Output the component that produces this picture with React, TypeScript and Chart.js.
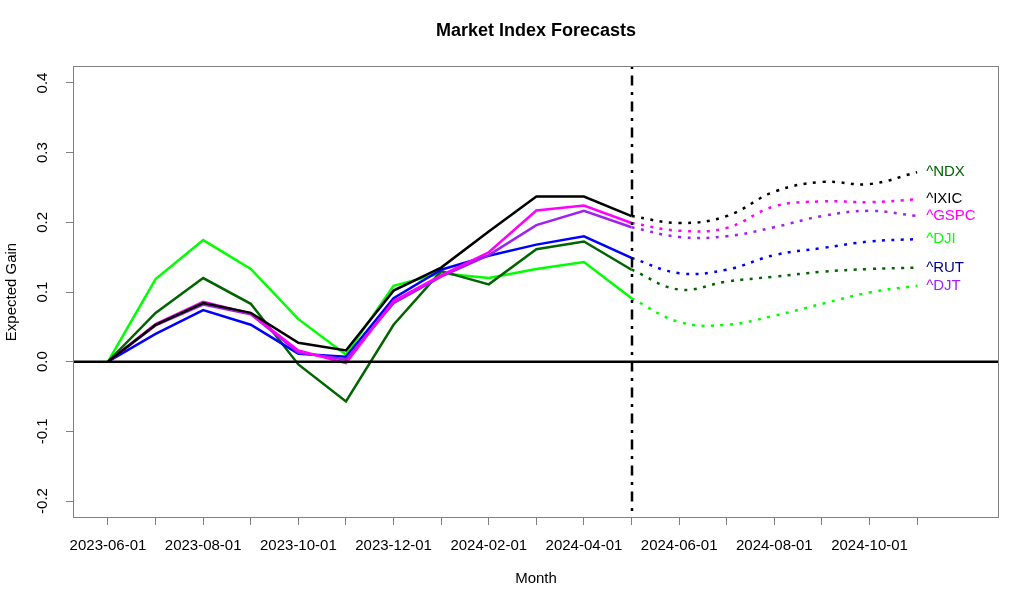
import React, { useEffect, useRef } from 'react';
import { Chart, registerables } from 'chart.js';

Chart.register(...registerables);

const MONTHS = [
  '2023-06-01', '2023-07-01', '2023-08-01', '2023-09-01', '2023-10-01', '2023-11-01',
  '2023-12-01', '2024-01-01', '2024-02-01', '2024-03-01', '2024-04-01', '2024-05-01',
  '2024-06-01', '2024-07-01', '2024-08-01', '2024-09-01', '2024-10-01', '2024-11-01',
];
const LAST_ACTUAL = 11;
const Y_TICKS = [-0.2, -0.1, 0.0, 0.1, 0.2, 0.3, 0.4];

const SERIES_BLACK = [0, 0.053, 0.084, 0.070, 0.027, 0.016, 0.102, 0.135, 0.187, 0.237, 0.237, 0.209, 0.199, 0.209, 0.244, 0.258, 0.255, 0.272];
const SERIES_MAGENTA = [0, 0.054, 0.086, 0.069, 0.016, -0.002, 0.087, 0.124, 0.157, 0.217, 0.224, 0.199, 0.188, 0.192, 0.223, 0.230, 0.229, 0.233];
const SERIES_PURPLE = [0, 0.052, 0.082, 0.068, 0.013, 0.003, 0.084, 0.122, 0.153, 0.196, 0.2165, 0.193, 0.179, 0.180, 0.193, 0.209, 0.2165, 0.209];
const SERIES_BLUE = [0, 0.040, 0.074, 0.053, 0.0115, 0.007, 0.091, 0.132, 0.152, 0.168, 0.180, 0.149, 0.127, 0.132, 0.153, 0.163, 0.1725, 0.176];
const SERIES_DARKGREEN = [0, 0.070, 0.120, 0.083, -0.004, -0.057, 0.053, 0.130, 0.111, 0.1615, 0.1725, 0.132, 0.1035, 0.115, 0.122, 0.129, 0.133, 0.135];
const SERIES_GREEN = [0, 0.1186, 0.1745, 0.133, 0.061, 0.010, 0.109, 0.127, 0.120, 0.133, 0.143, 0.091, 0.057, 0.053, 0.066, 0.083, 0.0994, 0.109];

const LINE_SERIES = [SERIES_BLACK, SERIES_MAGENTA, SERIES_PURPLE, SERIES_BLUE, SERIES_DARKGREEN, SERIES_GREEN];
const LINE_COLORS = ['#000000', '#FF00FF', '#A020F0', '#0000FF', '#006400', '#00FF00'];
const END_LABELS = ['^NDX', '^IXIC', '^GSPC', '^DJI', '^RUT', '^DJT'];
const END_LABEL_COLORS = ['#006400', '#000000', '#FF00FF', '#00FF00', '#00008B', '#A020F0'];

const FONT = "'Liberation Sans', Arial, sans-serif";
const AXIS_GRAY = '#808080';

const decorPlugin = {
  id: 'decor',
  afterDatasetsDraw(chart: any) {
    const { ctx, chartArea: a, scales } = chart;
    const xs = scales.x;
    const ys = scales.y;
    ctx.save();
    // zero line
    const y0 = ys.getPixelForValue(0);
    ctx.strokeStyle = '#000';
    ctx.lineWidth = 2.5;
    ctx.setLineDash([]);
    ctx.beginPath();
    ctx.moveTo(a.left, y0);
    ctx.lineTo(a.right, y0);
    ctx.stroke();
    // forecast split line
    const xv = Math.round(xs.getPixelForValue(LAST_ACTUAL));
    ctx.setLineDash([3, 6.5, 10, 6.5]);
    ctx.beginPath();
    ctx.moveTo(xv, a.top);
    ctx.lineTo(xv, a.bottom);
    ctx.stroke();
    ctx.setLineDash([]);
    // box
    ctx.strokeStyle = AXIS_GRAY;
    ctx.lineWidth = 1;
    ctx.strokeRect(a.left + 0.5, a.top + 0.5, a.right - a.left - 1, a.bottom - a.top - 1);
    ctx.restore();
  },
  afterDraw(chart: any) {
    const { ctx, chartArea: a, scales } = chart;
    const xs = scales.x;
    const ys = scales.y;
    ctx.save();
    // title
    ctx.fillStyle = '#000';
    ctx.textAlign = 'center';
    ctx.textBaseline = 'middle';
    ctx.font = `bold 18px ${FONT}`;
    ctx.fillText('Market Index Forecasts', (a.left + a.right) / 2, 31);
    // x title
    ctx.font = `15px ${FONT}`;
    ctx.fillText('Month', (a.left + a.right) / 2, 579);
    // y title
    ctx.save();
    ctx.translate(12, (a.top + a.bottom) / 2);
    ctx.rotate(-Math.PI / 2);
    ctx.fillText('Expected Gain', 0, 0);
    ctx.restore();
    // y tick labels (rotated)
    for (const t of Y_TICKS) {
      const y = ys.getPixelForValue(t);
      ctx.save();
      ctx.translate(43, y);
      ctx.rotate(-Math.PI / 2);
      ctx.fillText(t.toFixed(1), 0, 0);
      ctx.restore();
    }
    // end labels
    ctx.textAlign = 'left';
    ctx.font = `15px ${FONT}`;
    const lastIdx = MONTHS.length - 1;
    END_LABELS.forEach((lab, i) => {
      const v = LINE_SERIES[i][lastIdx];
      ctx.fillStyle = END_LABEL_COLORS[i];
      ctx.fillText(lab, xs.getPixelForValue(lastIdx) + 9, ys.getPixelForValue(v));
    });
    ctx.restore();
  },
};

export default function App() {
  const ref = useRef<HTMLCanvasElement | null>(null);

  useEffect(() => {
    document.body.style.margin = '0';
    const canvas = ref.current;
    if (!canvas) return;

    const datasets: any[] = [];
    LINE_SERIES.forEach((s, i) => {
      datasets.push({
        label: END_LABELS[i] + ' actual',
        data: s.slice(0, LAST_ACTUAL + 1).map((v, k) => ({ x: k, y: v })),
        borderColor: LINE_COLORS[i],
        borderWidth: 2.5,
        pointRadius: 0,
        tension: 0,
        fill: false,
      });
      datasets.push({
        label: END_LABELS[i] + ' forecast',
        data: s.slice(LAST_ACTUAL).map((v, k) => ({ x: k + LAST_ACTUAL, y: v })),
        borderColor: LINE_COLORS[i],
        borderWidth: 2.5,
        borderDash: [3, 6.5],
        pointRadius: 0,
        tension: 0.4,
        fill: false,
      });
    });

    const chart = new Chart(canvas, {
      type: 'line',
      data: { datasets },
      plugins: [decorPlugin],
      options: {
        animation: false,
        responsive: false,
        devicePixelRatio: 1,
        layout: { padding: { top: 66, right: 25, left: 0, bottom: 0 } },
        plugins: {
          legend: { display: false },
          title: { display: false },
          tooltip: { enabled: false },
        },
        scales: {
          x: {
            type: 'linear',
            min: -0.735,
            max: 18.72,
            afterBuildTicks: (scale: any) => {
              scale.ticks = MONTHS.map((_, i) => ({ value: i }));
            },
            afterFit: (scale: any) => {
              scale.height = 86;
            },
            grid: {
              display: true,
              drawOnChartArea: false,
              drawTicks: true,
              tickLength: 7,
              color: AXIS_GRAY,
              lineWidth: 1,
            },
            border: { display: false },
            ticks: {
              autoSkip: false,
              maxRotation: 0,
              minRotation: 0,
              padding: 12,
              color: '#000',
              font: { family: FONT, size: 15 },
              callback: (value: any) => {
                const i = Math.round(Number(value));
                return i % 2 === 0 && MONTHS[i] ? MONTHS[i] : '';
              },
            },
          },
          y: {
            type: 'linear',
            min: -0.2244,
            max: 0.4244,
            afterBuildTicks: (scale: any) => {
              scale.ticks = Y_TICKS.map((v) => ({ value: v }));
            },
            afterFit: (scale: any) => {
              scale.width = 73;
            },
            grid: {
              display: true,
              drawOnChartArea: false,
              drawTicks: true,
              tickLength: 7,
              color: AXIS_GRAY,
              lineWidth: 1,
            },
            border: { display: false },
            ticks: { display: false },
          },
        },
      },
    } as any);

    return () => {
      chart.destroy();
    };
  }, []);

  return (
    <div style={{ width: 1024, height: 604, background: '#fff' }}>
      <canvas ref={ref} width={1024} height={604} />
    </div>
  );
}
